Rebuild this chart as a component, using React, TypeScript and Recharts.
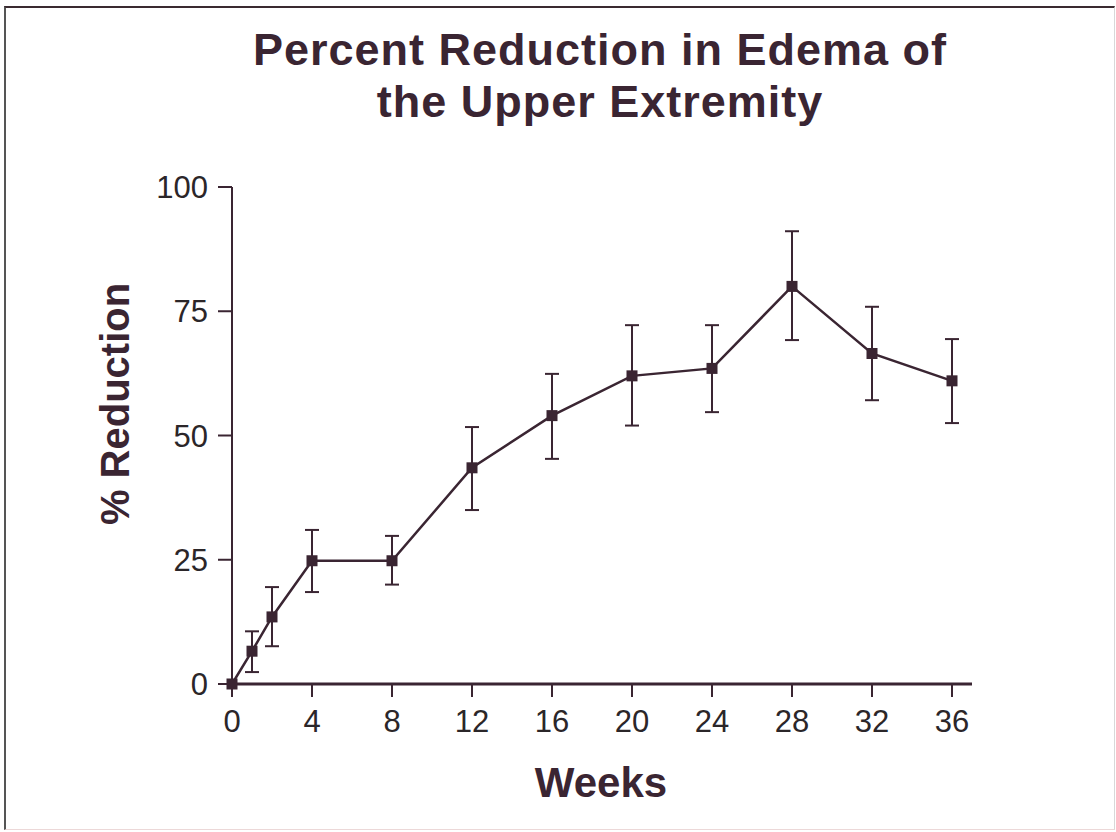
import { ErrorBar, Line, LineChart, XAxis, YAxis } from 'recharts'

const WEEKS = [0, 1, 2, 4, 8, 12, 16, 20, 24, 28, 32, 36]
const MEAN_REDUCTION = [0, 6.6, 13.5, 24.8, 24.8, 43.5, 54, 62, 63.5, 80, 66.5, 61]
const LOWER = [0, 2.4, 7.6, 18.5, 20, 35, 45.3, 52, 54.7, 69.2, 57.1, 52.5]
const UPPER = [0, 10.6, 19.5, 31, 29.8, 51.7, 62.4, 72.2, 72.2, 91.1, 75.9, 69.4]
const X_TICKS = [0, 4, 8, 12, 16, 20, 24, 28, 32, 36]
const Y_TICKS = [0, 25, 50, 75, 100]

const INK = '#3a2532'
const TEXT = '#2b2629'
const FONT = '"Liberation Sans", Arial, Helvetica, sans-serif'

const data = WEEKS.map((week, i) => ({
  week,
  mean: MEAN_REDUCTION[i],
  err: [MEAN_REDUCTION[i] - LOWER[i], UPPER[i] - MEAN_REDUCTION[i]],
}))

function SquareDot(props: any) {
  const { cx, cy, index } = props
  if (cx == null || cy == null) return null
  return <rect key={index} x={cx - 5.5} y={cy - 5.5} width={11} height={11} fill={INK} />
}

export default function App() {
  return (
    <div
      style={{
        position: 'absolute',
        left: 0,
        top: 0,
        width: 1116,
        height: 832,
        background: '#fff',
        fontFamily: FONT,
        overflow: 'hidden',
      }}
    >
      {/* picture frame */}
      <div
        style={{
          position: 'absolute',
          left: 4,
          top: 6,
          width: 1108,
          height: 821,
          borderLeft: '2px solid #555',
          borderTop: '2px solid #3a2a30',
          borderRight: '1px solid #d8d8d8',
          borderBottom: '1px solid #ecd8d8',
        }}
      />
      <div
        style={{
          position: 'absolute',
          left: 600,
          top: 24,
          transform: 'translateX(-50%)',
          whiteSpace: 'nowrap',
          textAlign: 'center',
          fontSize: 45,
          lineHeight: '52px',
          fontWeight: 700,
          letterSpacing: 1,
          color: INK,
        }}
      >
        Percent Reduction in Edema of
        <br />
        the Upper Extremity
      </div>
      <div
        style={{
          position: 'absolute',
          left: 115,
          top: 404,
          transform: 'translate(-50%, -50%) rotate(-90deg)',
          whiteSpace: 'nowrap',
          fontSize: 40,
          lineHeight: 1,
          fontWeight: 700,
          color: INK,
        }}
      >
        % Reduction
      </div>
      <div
        style={{
          position: 'absolute',
          left: 601,
          top: 762,
          transform: 'translateX(-50%)',
          whiteSpace: 'nowrap',
          fontSize: 42,
          lineHeight: '42px',
          fontWeight: 700,
          color: INK,
        }}
      >
        Weeks
      </div>
      <LineChart
        width={1116}
        height={832}
        data={data}
        margin={{ top: 187, right: 144, bottom: 88, left: 0 }}
        style={{ position: 'absolute', left: 0, top: 0 }}
      >
        <XAxis
          dataKey="week"
          type="number"
          domain={[0, 37]}
          ticks={X_TICKS}
          interval={0}
          height={60}
          tickSize={13}
          tickMargin={13}
          stroke={INK}
          axisLine={{ stroke: INK, strokeWidth: 3 }}
          tickLine={{ stroke: INK, strokeWidth: 2 }}
          tick={{ fontSize: 31, fill: TEXT, fontFamily: FONT }}
        />
        <YAxis
          type="number"
          domain={[0, 100]}
          ticks={Y_TICKS}
          interval={0}
          width={232}
          tickSize={14}
          tickMargin={10}
          axisLine={{ stroke: INK, strokeWidth: 2 }}
          tickLine={{ stroke: INK, strokeWidth: 2 }}
          tick={{ fontSize: 31, fill: TEXT, fontFamily: FONT }}
        />
        <Line
          type="linear"
          dataKey="mean"
          stroke={INK}
          strokeWidth={2.5}
          dot={SquareDot}
          activeDot={false}
          isAnimationActive={false}
        >
          <ErrorBar dataKey="err" direction="y" width={7} stroke={INK} strokeWidth={2} isAnimationActive={false} />
        </Line>
      </LineChart>
    </div>
  )
}
